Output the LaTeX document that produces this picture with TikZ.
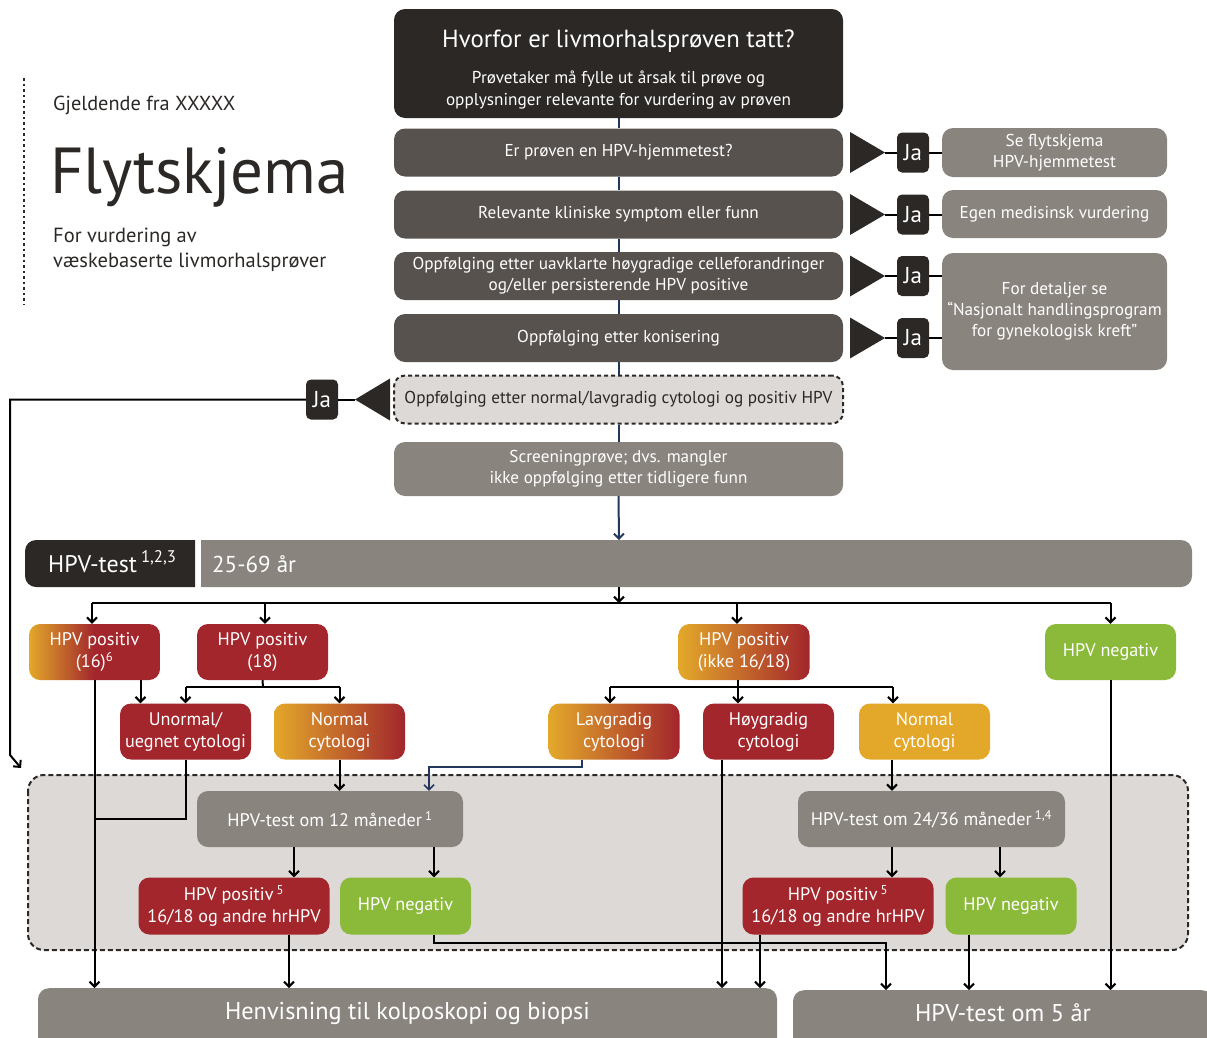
\documentclass[tikz,border=0pt]{standalone}
\usepackage{fontspec}
\setmainfont{PT Sans}
\usetikzlibrary{arrows.meta}

\definecolor{chartdark}{HTML}{2B2826}
\definecolor{qgray}{HTML}{58524E}
\definecolor{boxgray}{HTML}{8A847F}
\definecolor{zonegray}{HTML}{DDD9D6}
\definecolor{hpvred}{HTML}{A2262C}
\definecolor{hpvorange}{HTML}{E3A82A}
\definecolor{hpvgreen}{HTML}{8BBA3A}
\definecolor{linknavy}{HTML}{22375C}

\tikzset{
	plain/.style={anchor=base west, inner sep=0pt, text=chartdark},
	fbox/.style={rectangle, rounded corners=11pt, align=center, text=white, inner sep=2pt, font=\fontsize{17.2}{21}\selectfont},
	qbox/.style={fbox, fill=qgray, minimum width=449pt, minimum height=48pt},
	gbox/.style={fbox, fill=boxgray},
	cbox/.style={fbox, minimum width=131pt, minimum height=56pt, font=\fontsize{18.2}{22}\selectfont},
	redbox/.style={cbox, fill=hpvred},
	grnbox/.style={cbox, fill=hpvgreen},
	orgbox/.style={cbox, fill=hpvorange},
	gradbox/.style={cbox, left color=hpvorange, right color=hpvred},
	jabox/.style={rectangle, rounded corners=5pt, fill=chartdark, text=white, minimum width=32pt, minimum height=40pt, inner sep=0pt, font=\fontsize{23}{26}\selectfont},
	bigbar/.style={rectangle, rounded corners=11pt, fill=boxgray, text=white, anchor=north, inner xsep=0pt, inner ysep=11pt, text height=20pt, text depth=30pt, font=\fontsize{24.3}{28}\selectfont},
	conn/.style={line width=2pt, black},
	arr/.style={conn, -{Straight Barb[length=5pt,width=10pt]}},
	spine/.style={line width=2pt, linknavy},
}

\begin{document}
\begin{tikzpicture}[x=1pt,y=-1pt]
	\useasboundingbox (0,0) rectangle (1207,1037);
	\clip (0,0) rectangle (1207,1037);
	\draw[chartdark, line width=2.5pt, dash pattern=on 2.5pt off 3pt] (24,78) -- (24,305);
	\node[plain, font=\fontsize{20.3}{24}\selectfont] (valid) at (53,110) {Gjeldende fra XXXXX};
	\node[plain, font=\fontsize{65}{70}\selectfont] (title) at (50,193) {Flytskjema};
	\node[plain, align=left, font=\fontsize{20.5}{24.5}\selectfont] (about) at (53,267) {For vurdering av\\væskebaserte livmorhalsprøver};

	\node[fbox, fill=chartdark, minimum width=449pt, minimum height=109pt, font=\fontsize{17.2}{22}\selectfont] (why) at (618.5,63.5)
		{{\fontsize{24.8}{26}\selectfont\rule{0pt}{30pt}Hvorfor er livmorhalsprøven tatt?}\\[14pt]Prøvetaker må fylle ut årsak til prøve og\\opplysninger relevante for vurdering av prøven};
	\node[qbox] (q1) at (618.5,152.5) {Er prøven en HPV-hjemmetest?};
	\node[qbox] (q2) at (618.5,214.5) {Relevante kliniske symptom eller funn};
	\node[qbox] (q3) at (618.5,276) {Oppfølging etter uavklarte høygradige celleforandringer\\og/eller persisterende HPV positive};
	\node[qbox] (q4) at (618.5,338) {Oppfølging etter konisering};
	\node[qbox, fill=zonegray, text=chartdark, draw=chartdark, line width=2pt, dash pattern=on 4pt off 3pt] (q5) at (618.5,399.5) {Oppfølging etter normal/lavgradig cytologi og positiv HPV};
	\node[qbox, fill=boxgray, minimum height=54pt] (scr) at (618.5,469) {Screeningprøve; dvs. mangler\\ikke oppfølging etter tidligere funn};
	\foreach \a/\b in {why/q1,q1/q2,q2/q3,q3/q4,q4/q5,q5/scr}
		\draw[spine] (\a.south) -- (\b.north);

	\node[gbox, minimum width=225pt, minimum height=49pt] (flow) at (1054.5,152.5) {Se flytskjema\\HPV-hjemmetest};
	\node[gbox, minimum width=225pt, minimum height=48pt] (egen) at (1054.5,214) {Egen medisinsk vurdering};
	\node[gbox, minimum width=225pt, minimum height=117pt] (detalj) at (1054.5,311.5) {For detaljer se\\“Nasjonalt handlingsprogram\\for gynekologisk kreft”};
	\foreach \y/\n/\t in {152.5/1/flow,214.5/2/egen,276/3/detalj,338/4/detalj}{
		\fill[chartdark] (850,\y-20.5) -- (885,\y) -- (850,\y+20.5) -- cycle;
		\coordinate (tip\n) at (885,\y);
		\node[jabox] (ja\n) at (913,\y) {Ja};
		\draw[conn] (tip\n) -- (ja\n.west);
		\draw[conn] (ja\n.east) -- (ja\n.east -| \t.west);
	}
	\fill[chartdark] (390,378.5) -- (355,399.5) -- (390,420.5) -- cycle;
	\coordinate (tipL) at (355,399.5);
	\node[jabox] (jaL) at (322,399.5) {Ja};
	\coordinate (back) at (21,768);
	\draw[conn] (tipL) -- (jaL.east);
	\draw[arr] (jaL.west) -| (10,755) -- (back);

	% HPV-test bar
	\begin{scope}
		\clip (25,530) rectangle (195,600);
		\fill[chartdark, rounded corners=11pt] (25,540) rectangle (230,587);
	\end{scope}
	\begin{scope}
		\clip (201,530) rectangle (1200,600);
		\fill[boxgray, rounded corners=11pt] (170,540) rectangle (1192,587);
	\end{scope}
	\node[plain, text=white, font=\fontsize{24}{26}\selectfont] (hpvlab) at (48,572) {HPV-test\,\textsuperscript{1,2,3}};
	\node[plain, text=white, font=\fontsize{23}{26}\selectfont] (agelab) at (212,572) {25-69 år};
	\coordinate (bartop) at (619,540);
	\coordinate (barbot) at (619,587);
	\coordinate (fork) at (619,603);
	\draw[arr, linknavy] (scr.south) -- (bartop);

	% test follow-up zone
	\draw[fill=zonegray, draw=chartdark, line width=2pt, dash pattern=on 5pt off 3pt, rounded corners=16pt] (28,775) rectangle (1188,950);

	\node[gradbox, middle color=hpvred] (p16) at (94.5,652) {HPV positiv\\(16)\textsuperscript{6}};
	\node[redbox] (p18) at (262.5,652) {HPV positiv\\(18)};
	\node[gradbox] (pik) at (744,652) {HPV positiv\\(ikke 16/18)};
	\node[grnbox] (neg) at (1110.5,652) {HPV negativ};
	\node[redbox] (uno) at (185.5,731.5) {Unormal/\\uegnet cytologi};
	\node[gradbox] (nor1) at (339.5,731.5) {Normal\\cytologi};
	\node[gradbox] (lav) at (614,731.5) {Lavgradig\\cytologi};
	\node[redbox] (hoy) at (768.5,731.5) {Høygradig\\cytologi};
	\node[orgbox] (nor2) at (924.5,731.5) {Normal\\cytologi};

	\node[gbox, minimum width=266pt, minimum height=56pt, font=\fontsize{18.2}{22}\selectfont] (t12) at (330,819) {HPV-test om 12 måneder\,\textsuperscript{1}};
	\node[redbox, minimum width=191pt, minimum height=57pt] (pos12) at (234,906) {HPV positiv\,\textsuperscript{5}\\16/18 og andre hrHPV};
	\node[grnbox, minimum height=57pt] (neg12) at (405.5,906) {HPV negativ};
	\node[gbox, minimum width=267pt, minimum height=56pt, font=\fontsize{18.2}{22}\selectfont] (t24) at (931.5,819) {HPV-test om 24/36 måneder\,\textsuperscript{1,4}};
	\node[redbox, minimum width=191pt, minimum height=57pt] (pos24) at (838,906) {HPV positiv\,\textsuperscript{5}\\16/18 og andre hrHPV};
	\node[grnbox, minimum height=57pt] (neg24) at (1011,906) {HPV negativ};

	\node[bigbar, minimum width=739pt] (refer) at (407.5,988) {Henvisning til kolposkopi og biopsi};
	\node[bigbar, minimum width=420pt] (five) at (1003,990) {HPV-test om 5 år};

	% fork from the bar
	\draw[arr] (barbot) -- (fork);
	\draw[conn] ([xshift=-2.5pt]p16.north |- fork) -- (neg.north |- fork);
	\foreach \n/\dx in {p16/-2.5,p18/2.5,pik/-7,neg/0}
		\draw[arr] ([xshift=\dx pt]\n.north |- fork) -- ([xshift=\dx pt]\n.north);

	\coordinate (split18) at (263,687);
	\draw[conn] (p18.south) -- (split18);
	\draw[conn] (uno.north |- split18) -- (nor1.north |- split18);
	\draw[arr] (uno.north |- split18) -- (uno.north);
	\draw[arr] (nor1.north |- split18) -- (nor1.north);

	\coordinate (splitik) at (738,687);
	\draw[conn] (pik.south -| splitik) -- (splitik);
	\draw[conn] ([xshift=-4pt]lav.north |- splitik) -- ([xshift=-31.5pt]nor2.north |- splitik);
	\foreach \n/\dx in {lav/-4,hoy/-30.5,nor2/-31.5}
		\draw[arr] ([xshift=\dx pt]\n.north |- splitik) -- ([xshift=\dx pt]\n.north);

	\coordinate (join16) at (94.5,819);
	\draw[arr] ([xshift=46pt]p16.south) -- ([xshift=46pt]p16.south |- uno.north);
	\draw[arr] (p16.south) -- (p16.south |- refer.north);
	\draw[conn] (uno.south) |- (join16);
	\draw[arr] (nor1.south) -- (nor1.south |- t12.north);
	\coordinate (navybend) at (429,767);
	\draw[arr, linknavy, line width=1.5pt] ([xshift=-32pt]lav.south) |- (navybend) -- (navybend |- t12.north);
	\draw[arr] ([xshift=-46.5pt]hoy.south) -- ([xshift=-46.5pt]hoy.south |- refer.north);
	\draw[arr] ([xshift=-32.5pt]nor2.south) -- ([xshift=-32.5pt]nor2.south |- t24.north);
	\draw[arr] (neg.south) -- (neg.south |- five.north);

	\draw[arr] ([xshift=-36pt]t12.south) -- ([xshift=-36pt]t12.south |- pos12.north);
	\draw[arr] ([xshift=104pt]t12.south) -- ([xshift=104pt]t12.south |- neg12.north);
	\draw[arr] ([xshift=-39.5pt]t24.south) -- ([xshift=-39.5pt]t24.south |- pos24.north);
	\draw[arr] ([xshift=68.5pt]t24.south) -- ([xshift=68.5pt]t24.south |- neg24.north);

	\draw[arr] ([xshift=55pt]pos12.south) -- ([xshift=55pt]pos12.south |- refer.north);
	\coordinate (negbend) at (886,943);
	\draw[arr] ([xshift=28.5pt]neg12.south) |- (negbend) -- (negbend |- five.north);
	\draw[arr] ([xshift=-78pt]pos24.south) -- ([xshift=-78pt]pos24.south |- refer.north);
	\draw[arr] ([xshift=-42pt]neg24.south) -- ([xshift=-42pt]neg24.south |- five.north);
\end{tikzpicture}
\end{document}
